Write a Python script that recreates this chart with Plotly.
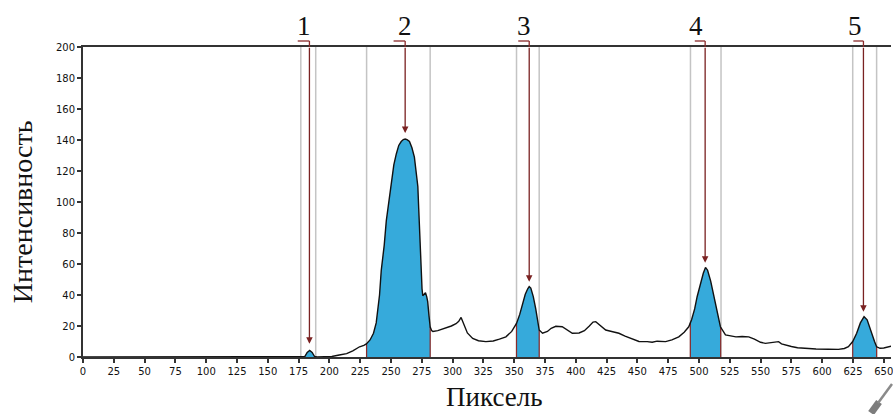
import numpy as np
import plotly.graph_objects as go

# ---- data ----
pixel = [0, 100, 178, 180, 182, 184, 186, 188, 190, 200, 202, 208, 214, 219, 224.5, 228, 230,
         233, 235.8, 238, 239.4, 240.7, 242.1, 244.5, 246.2, 248.5, 250.2, 252.3, 254.3, 256.3,
         258.3, 260, 261.5, 263, 265, 267, 269, 270.5, 271.8, 272.5, 273.1, 273.8, 274.5, 275.2,
         275.8, 277, 278, 279, 279.8, 280.8, 281.8, 283, 284, 288, 292, 294.7, 299, 302.8, 305,
         306.9, 308, 309.5, 312, 316.3, 321, 327, 333, 338, 343.3, 348, 351.9, 354.5, 356.8, 359,
         361, 362.2, 363.5, 365.5, 367.5, 369, 370.3, 373, 377, 380, 383.8, 389, 393, 397.2,
         402.7, 407, 411, 414, 416.2, 419, 424.3, 430, 435, 440, 446, 451.3, 458, 462, 466,
         472.9, 478, 483.6, 488, 491.7, 494, 496.5, 498.5, 501, 503.5, 505.3, 507, 509.5, 512,
         514.5, 517.4, 521.5, 526, 530, 535, 540.4, 545, 550, 553.9, 558, 562, 564.6, 567, 570,
         575, 580, 586.2, 595, 605, 613.2, 618, 621.3, 624.8, 628, 631, 634, 636.5, 638.5,
         640.2, 642.5, 644.2, 647, 650, 653, 656]
intensity = [0, 0, 0, 0.3, 3, 4.2, 3, 0.3, 0, 0, 0.3, 1.3, 2.2, 4, 6.6, 7.5, 8.4,
             11, 15.3, 22, 32, 40, 56, 72, 88, 101, 114, 124, 131, 136.5,
             139, 140.3, 140.6, 140.2, 139, 135, 129, 120, 110, 96, 82, 66, 52, 44,
             39.5, 40.5, 41.5, 39, 35.7, 27, 19.5, 17, 16.5, 17, 18, 18.7, 20, 21.5, 23,
             25.5, 23.5, 20, 15.5, 12, 10.5, 9.9, 10.3, 11.5, 13, 16.5, 21.7, 27.5, 34.6, 40.5,
             44, 45.4, 44.5, 39, 31, 23, 17.4, 15.3, 16.5, 18.5, 19.8, 19.5, 17.5, 15.3,
             15.5, 17, 20, 22.5, 22.8, 21, 17.4, 16.3, 15.3, 13.5, 11.5, 10, 9.9, 9.5, 10.2,
             9.9, 11, 13, 16, 19.5, 24, 31, 38.9, 47, 54, 57.8, 56, 49, 38.9,
             29, 19.5, 14.2, 13.5, 13, 13.2, 13, 11.5, 9.5, 8.8, 9.3, 9.8, 9.9, 8.5, 7.7,
             6.8, 6, 5.6, 5.2, 5, 4.9, 5.5, 6.6, 10, 15.3, 22, 26, 24, 19,
             15.3, 10, 6.6, 5.6, 5.8, 6.5, 7]

peak_labels = ["1", "2", "3", "4", "5"]
label_x = [179.5, 261.0, 357.6, 497.4, 626.8]        # number positions
bracket_left = [174.3, 252.1, 353.3, 496.6, 625.3]
arrow_x = [183.8, 261.5, 362.2, 505.0, 633.5]
arrow_tip = [8.5, 144.5, 48.6, 60.8, 29.2]
fill_ranges = [(180, 188), (230.2, 281.8), (351.9, 370.3), (493.0, 517.6), (624.8, 644.2)]
bound_lines = [176.8, 188.9, 230.2, 281.8, 351.9, 370.3, 493.1, 517.9, 624.8, 644.2]
x_ticks = list(range(0, 651, 25))
y_ticks = list(range(0, 201, 20))

px_arr = np.array(pixel, dtype=float)
in_arr = np.array(intensity, dtype=float)

W, H = 893, 414
ML, MT, MB = 83, 47, 57
PW = W - ML
PH = H - MT - MB

fig = go.Figure()

# filled peak regions
for a, b in fill_ranges:
    inner = px_arr[(px_arr > a) & (px_arr < b)]
    xs = np.concatenate([[a], inner, [b]])
    ys = np.interp(xs, px_arr, in_arr)
    fig.add_trace(go.Scatter(x=np.concatenate([[a], xs, [b]]), y=np.concatenate([[0], ys, [0]]),
                             mode="lines", fill="toself", fillcolor="#36aadb",
                             line=dict(width=0), hoverinfo="skip", showlegend=False))
    # dark red edges of the region
    for e in (a, b):
        ye = float(np.interp(e, px_arr, in_arr))
        fig.add_trace(go.Scatter(x=[e, e], y=[0, ye], mode="lines",
                                 line=dict(color="#8a2b2b", width=1.2),
                                 hoverinfo="skip", showlegend=False))

# profile curve
fig.add_trace(go.Scatter(x=pixel, y=intensity, mode="lines",
                         line=dict(color="#111111", width=1.4), showlegend=False))

shapes = []
for bx in bound_lines:
    shapes.append(dict(type="line", xref="x", yref="paper", x0=bx, x1=bx, y0=0, y1=1,
                       line=dict(color="#c4c4c4", width=1.5), layer="below"))
top_paper = (PH + 6) / PH
for l, ax_ in zip(bracket_left, arrow_x):
    shapes.append(dict(type="line", xref="x", yref="paper", x0=l, x1=ax_, y0=top_paper, y1=top_paper,
                       line=dict(color="#8a2b2b", width=1.3)))
    shapes.append(dict(type="line", xref="x", yref="paper", x0=ax_, x1=ax_, y0=top_paper, y1=1,
                       line=dict(color="#8a2b2b", width=1.3)))

# small grey swoosh at the bottom right corner
def pp(x, y):
    return ((x - ML) / PW, (H - MB - y) / PH)
x0, y0 = pp(873, 413); x1, y1 = pp(881, 402)
shapes.append(dict(type="line", xref="paper", yref="paper", x0=x0, y0=y0, x1=x1, y1=y1,
                   line=dict(color="#7d7d7d", width=7)))
x0, y0 = pp(880, 403); x1, y1 = pp(894, 384)
shapes.append(dict(type="line", xref="paper", yref="paper", x0=x0, y0=y0, x1=x1, y1=y1,
                   line=dict(color="#8a8a8a", width=2.5)))

annotations = []
for lab, lx in zip(peak_labels, label_x):
    annotations.append(dict(text=lab, x=lx, xref="x", y=(H - MB - 26) / PH, yref="paper",
                            showarrow=False, xanchor="center", yanchor="middle",
                            font=dict(family="Liberation Serif", size=27, color="#111")))
for ax_, tip in zip(arrow_x, arrow_tip):
    annotations.append(dict(text="", x=ax_, y=tip, xref="x", yref="y",
                            ax=ax_, ay=200.5, axref="x", ayref="y", showarrow=True,
                            arrowhead=2, arrowsize=1.0, arrowwidth=1.3, arrowcolor="#7a2222",
                            standoff=0, startstandoff=0, font=dict(size=1)))
annotations.append(dict(text="Интенсивность", textangle=-90, xref="paper", yref="paper",
                        x=(22 - ML) / PW, y=(H - MB - 212) / PH, showarrow=False,
                        xanchor="center", yanchor="middle",
                        font=dict(family="Liberation Serif", size=28, color="#111")))
annotations.append(dict(text="Пиксель", xref="paper", yref="paper",
                        x=(495 - ML) / PW, y=(H - MB - 397) / PH, showarrow=False,
                        xanchor="center", yanchor="middle",
                        font=dict(family="Liberation Serif", size=27, color="#111")))

fig.update_layout(
    width=W, height=H, margin=dict(l=ML, r=0, t=MT, b=MB),
    paper_bgcolor="white", plot_bgcolor="white",
    shapes=shapes, annotations=annotations, showlegend=False,
    xaxis=dict(range=[0, (PW) / 1.235], tickvals=x_ticks, ticks="outside", ticklen=4,
               tickwidth=1.5, tickcolor="#333", showline=True, linecolor="#333", linewidth=2,
               mirror=True, showgrid=False, zeroline=False, ticklabeloverflow="allow",
               tickfont=dict(family="DejaVu Sans", size=10, color="#111")),
    yaxis=dict(range=[0, 200], tickvals=y_ticks, ticks="outside", ticklen=4,
               tickwidth=1.5, tickcolor="#333", showline=True, linecolor="#333", linewidth=2,
               showgrid=False, zeroline=False,
               tickfont=dict(family="DejaVu Sans", size=10, color="#111")),
)

fig.write_html("out.html", config={"displayModeBar": False})
